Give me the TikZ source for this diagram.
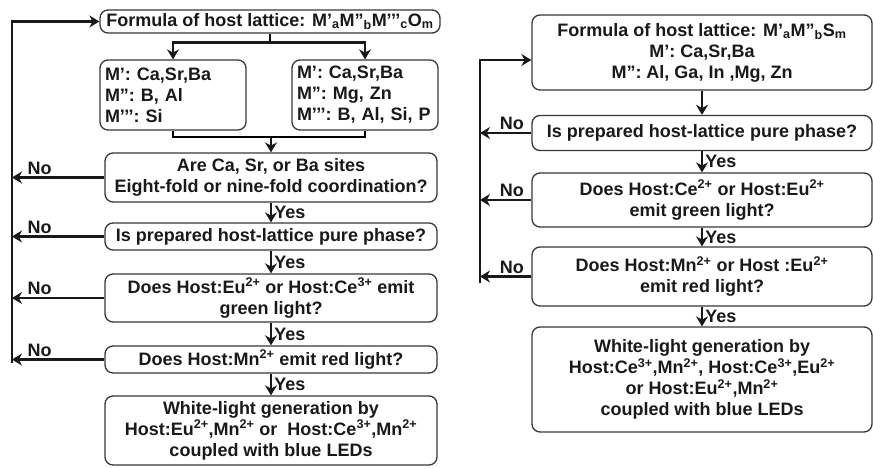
\documentclass[tikz,border=0pt]{standalone}
\usepackage{fontspec}
\setmainfont{Liberation Sans}
\usetikzlibrary{arrows.meta,positioning}
\definecolor{InkBlack}{RGB}{25,25,25}
\definecolor{FrameGray}{RGB}{55,55,55}
\tikzset{
  flowbox/.style={draw=FrameGray,line width=1.3pt,rounded corners=8pt,align=center,
    inner sep=2pt,text=InkBlack,font=\fontsize{18}{21}\selectfont\bfseries},
  elembox/.style={flowbox,align=left,inner xsep=5pt,text width=136pt,minimum height=70pt},
  flow/.style={->,line width=2.6pt,draw=InkBlack},
  tag/.style={text=InkBlack,font=\fontsize{18}{20}\selectfont\bfseries,inner sep=2pt}
}

\begin{document}
\begin{tikzpicture}[x=1pt,y=-1pt,>={Stealth[length=10pt,width=12pt]}]
  \useasboundingbox (0,0) rectangle (873,468);
  % oxide hosts
  \node[flowbox,minimum width=340pt,minimum height=23pt] (oxForm) at (270,21.5)
    {Formula of host lattice: M’\textsubscript{a}M”\textsubscript{b}M’’’\textsubscript{c}O\textsubscript{m}};
  \node[elembox] (oxElemA) at (173,95)
    {M’: Ca,Sr,Ba\\M”: B, Al\\M’’’: Si};
  \node[elembox] (oxElemB) at (365,95)
    {M’: Ca,Sr,Ba\\M”: Mg, Zn\\M’’’: B, Al, Si, P};
  \node[flowbox,minimum width=332pt,minimum height=49pt] (oxCoord) at (271,177.5)
    {Are Ca, Sr, or Ba sites\\Eight-fold or nine-fold coordination?};
  \node[flowbox,minimum width=332pt,minimum height=27pt] (oxPure) at (271,236.5)
    {Is prepared host-lattice pure phase?};
  \node[flowbox,minimum width=332pt,minimum height=48pt] (oxGreen) at (271,298)
    {Does Host:Eu\textsuperscript{2+} or Host:Ce\textsuperscript{3+} emit\\green light?};
  \node[flowbox,minimum width=332pt,minimum height=27pt] (oxRed) at (271,359.5)
    {Does Host:Mn\textsuperscript{2+} emit red light?};
  \node[flowbox,minimum width=332pt,minimum height=69pt] (oxWhite) at (271,430.5)
    {White-light generation by\\Host:Eu\textsuperscript{2+},Mn\textsuperscript{2+} or\ \ Host:Ce\textsuperscript{3+},Mn\textsuperscript{2+}\\coupled with blue LEDs};

  \draw[line width=2.6pt] (oxForm.south) -- ++(0,9) coordinate (oxSplit);
  \draw[flow] (oxSplit) -| (oxElemA.north);
  \draw[flow] (oxSplit) -| (oxElemB.north);
  \coordinate (oxJoin) at (271,137);
  \draw[line width=2.6pt] (oxElemA.south) |- (oxJoin) -| (oxElemB.south);
  \draw[flow] (oxJoin) -- (oxCoord.north);
  \draw[flow] (oxCoord) -- (oxPure) node[tag,midway,right] {Yes};
  \draw[flow] (oxPure) -- (oxGreen) node[tag,midway,right] {Yes};
  \draw[flow] (oxGreen) -- (oxRed) node[tag,midway,right] {Yes};
  \draw[flow] (oxRed) -- (oxWhite) node[tag,midway,right] {Yes};

  \coordinate (oxBack) at (12,363);
  \foreach \q in {oxCoord,oxPure,oxGreen,oxRed}
    \draw[flow] (\q.west) -- (\q.west -| oxBack) node[tag,pos=0.7,above] {No};
  \draw[flow] (oxBack) |- (oxForm.west);

  % sulfide hosts
  \node[flowbox,minimum width=340pt,minimum height=75pt] (sfForm) at (702,52.5)
    {Formula of host lattice: M’\textsubscript{a}M”\textsubscript{b}S\textsubscript{m}\\M’: Ca,Sr,Ba\\M”: Al, Ga, In ,Mg, Zn};
  \node[flowbox,minimum width=340pt,minimum height=35pt] (sfPure) at (702,133)
    {Is prepared host-lattice pure phase?};
  \node[flowbox,minimum width=340pt,minimum height=54pt] (sfGreen) at (702,200)
    {Does Host:Ce\textsuperscript{2+} or Host:Eu\textsuperscript{2+}\\emit green light?};
  \node[flowbox,minimum width=340pt,minimum height=59pt] (sfRed) at (702,276.5)
    {Does Host:Mn\textsuperscript{2+} or Host :Eu\textsuperscript{2+}\\emit red light?};
  \node[flowbox,minimum width=340pt,minimum height=105pt] (sfWhite) at (702,379.5)
    {White-light generation by\\Host:Ce\textsuperscript{3+},Mn\textsuperscript{2+}, Host:Ce\textsuperscript{3+},Eu\textsuperscript{2+}\\or Host:Eu\textsuperscript{2+},Mn\textsuperscript{2+}\\coupled with blue LEDs};

  \draw[flow] (sfForm) -- (sfPure);
  \draw[flow] (sfPure) -- (sfGreen) node[tag,midway,right] {Yes};
  \draw[flow] (sfGreen) -- (sfRed) node[tag,midway,right] {Yes};
  \draw[flow] (sfRed) -- (sfWhite) node[tag,midway,right] {Yes};

  \coordinate (sfBack) at (480,283);
  \foreach \q in {sfPure,sfGreen,sfRed}
    \draw[flow] (\q.west) -- (\q.west -| sfBack) node[tag,pos=0.38,above] {No};
  \draw[flow] (sfBack) |- ([yshift=-7.5pt]sfForm.west);
\end{tikzpicture}
\end{document}
